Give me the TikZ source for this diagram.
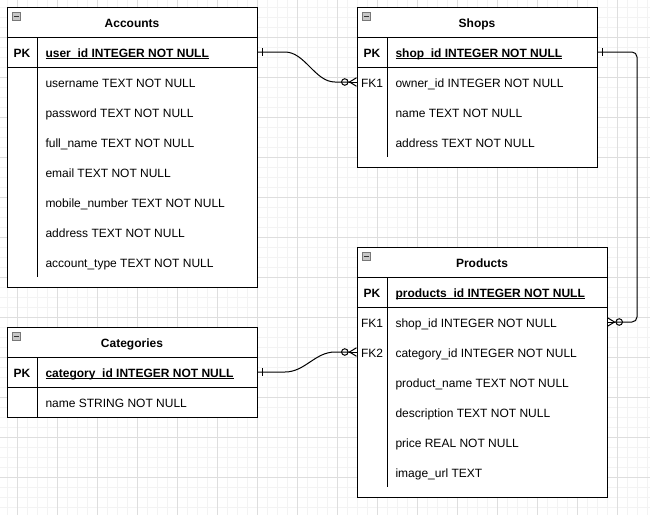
\documentclass[tikz,border=0pt]{standalone}
\usepackage{fontspec}
\setmainfont{Liberation Sans}
\usetikzlibrary{positioning,arrows.meta,calc}
\definecolor{gridmajor}{RGB}{222,222,222}
\definecolor{gridminor}{RGB}{243,243,243}
\definecolor{iconfill}{RGB}{200,200,200}
\definecolor{iconline}{RGB}{120,120,120}
\newcommand{\keyfield}[1]{\setbox0\hbox{#1}\rlap{\rule[-2.2pt]{\wd0}{0.9pt}}\box0}

\tikzset{
  every node/.style={font=\fontsize{12}{14}\selectfont, text height=10pt, text depth=0pt, inner ysep=0pt, outer sep=0pt},
  bold/.style={font=\fontsize{12}{14}\selectfont\bfseries},
  tblhead/.style={draw, fill=white, line width=1pt, minimum height=30pt, anchor=north west, bold},
  pkrow/.style={draw, fill=white, line width=1pt, minimum height=30pt},
  tblbody/.style={draw, fill=white, line width=1pt},
  key/.style={inner xsep=0pt},
  field/.style={anchor=west, inner xsep=0pt},
  minicon/.style={draw=iconline, fill=iconfill, line width=0.8pt, minimum size=8.5pt, inner sep=0pt, text height=0pt,
    path picture={\draw[black!80, line width=1pt] ([xshift=-2.5pt]path picture bounding box.center) -- ([xshift=2.5pt]path picture bounding box.center);}},
  rel/.style={line width=1pt, -{Circle[open,length=7.5pt,width=7.5pt]Straight Barb[reversed,length=7pt,width=8.5pt]}},
}

\begin{document}
\begin{tikzpicture}[x=1pt, y=-1pt]
  \useasboundingbox (0,0) rectangle (650,515);
  \fill[white] (0,0) rectangle (650,515);
  % grid
  \foreach \g in {7,17,...,647} \draw[gridminor, line width=0.7pt] (\g,0) -- (\g,515);
  \foreach \g in {7,17,...,507} \draw[gridminor, line width=0.7pt] (0,\g) -- (650,\g);
  \foreach \g in {17,57,...,657} \draw[gridmajor, line width=0.7pt] (\g,0) -- (\g,515);
  \foreach \g in {37,77,...,477} \draw[gridmajor, line width=0.7pt] (0,\g) -- (650,\g);

  % Accounts
  \node[tblhead, minimum width=250pt] (acc) at (7,7) {Accounts};
  \node[minicon, below right=5pt and 5pt of acc.north west] (acc-min) {};
  \node[pkrow, minimum width=250pt, below=0pt of acc] (acc-pk) {};
  \node[tblbody, minimum width=250pt, minimum height=220pt, below=0pt of acc-pk] (acc-body) {};
  \draw[line width=1pt] ([xshift=30pt]acc.south west) -- ([xshift=30pt,yshift=10pt]acc-body.south west);
  \node[key, bold] (acc-pkkey) at (22,52) {PK};
  \node[field, bold] (acc-pkf) at (45.5,52) {\keyfield{user\_id INTEGER NOT NULL}};
  \foreach \t [count=\i] in {username TEXT NOT NULL, password TEXT NOT NULL, full\_name TEXT NOT NULL,
      email TEXT NOT NULL, mobile\_number TEXT NOT NULL, address TEXT NOT NULL, account\_type TEXT NOT NULL}
    \node[field] (acc-f\i) at (45.5,{52+30*\i}) {\t};

  % Shops
  \node[tblhead, minimum width=240pt] (shp) at (357,7) {Shops};
  \node[minicon, below right=5pt and 5pt of shp.north west] (shp-min) {};
  \node[pkrow, minimum width=240pt, below=0pt of shp] (shp-pk) {};
  \node[tblbody, minimum width=240pt, minimum height=100pt, below=0pt of shp-pk] (shp-body) {};
  \draw[line width=1pt] ([xshift=30pt]shp.south west) -- ([xshift=30pt,yshift=10pt]shp-body.south west);
  \node[key, bold] (shp-pkkey) at (372,52) {PK};
  \node[field, bold] (shp-pkf) at (395.5,52) {\keyfield{shop\_id INTEGER NOT NULL}};
  \node[key] (shp-fk1) at (372,82) {FK1};
  \foreach \t [count=\i] in {owner\_id INTEGER NOT NULL, name TEXT NOT NULL, address TEXT NOT NULL}
    \node[field] (shp-f\i) at (395.5,{52+30*\i}) {\t};

  % Products
  \node[tblhead, minimum width=250pt] (prd) at (357,247) {Products};
  \node[minicon, below right=5pt and 5pt of prd.north west] (prd-min) {};
  \node[pkrow, minimum width=250pt, below=0pt of prd] (prd-pk) {};
  \node[tblbody, minimum width=250pt, minimum height=190pt, below=0pt of prd-pk] (prd-body) {};
  \draw[line width=1pt] ([xshift=30pt]prd.south west) -- ([xshift=30pt,yshift=10pt]prd-body.south west);
  \node[key, bold] (prd-pkkey) at (372,292) {PK};
  \node[field, bold] (prd-pkf) at (395.5,292) {\keyfield{products\_id INTEGER NOT NULL}};
  \node[key] (prd-fk1) at (372,322) {FK1};
  \node[key] (prd-fk2) at (372,352) {FK2};
  \foreach \t [count=\i] in {shop\_id INTEGER NOT NULL, category\_id INTEGER NOT NULL, product\_name TEXT NOT NULL,
      description TEXT NOT NULL, price REAL NOT NULL, image\_url TEXT}
    \node[field] (prd-f\i) at (395.5,{292+30*\i}) {\t};

  % Categories
  \node[tblhead, minimum width=250pt] (cat) at (7,327) {Categories};
  \node[minicon, below right=5pt and 5pt of cat.north west] (cat-min) {};
  \node[pkrow, minimum width=250pt, below=0pt of cat] (cat-pk) {};
  \node[tblbody, minimum width=250pt, minimum height=30pt, below=0pt of cat-pk] (cat-body) {};
  \draw[line width=1pt] ([xshift=30pt]cat.south west) -- ([xshift=30pt]cat-body.south west);
  \node[key, bold] (cat-pkkey) at (22,372) {PK};
  \node[field, bold] (cat-pkf) at (45.5,372) {\keyfield{category\_id INTEGER NOT NULL}};
  \node[field] (cat-f1) at (45.5,402) {name STRING NOT NULL};

  % relations
  \coordinate (shp-in) at (shp-fk1 -| shp.west);
  \coordinate (prd-in1) at (prd-fk1 -| prd.east);
  \coordinate (prd-in2) at (prd-fk2 -| prd.west);
  \draw[rel] (acc-pk.east) -- ++(28,0) .. controls +(20,0) and +(-20,0) .. ($(shp-in)+(-22,0)$) -- (shp-in);
  \draw[rel, rounded corners=5pt] (shp-pk.east) -- ++(40,0) |- (prd-in1);
  \draw[rel] (cat-pk.east) -- ++(28,0) .. controls +(20,0) and +(-20,0) .. ($(prd-in2)+(-22,0)$) -- (prd-in2);
  \foreach \n in {acc-pk, shp-pk, cat-pk}
    \draw[line width=1pt] (\n.east) ++(5,-4) -- ++(0,8);
  \foreach \c/\d in {shp-in/-8, prd-in1/8, prd-in2/-8}
    \draw[line width=1pt] (\c) -- ++(\d,0);
\end{tikzpicture}
\end{document}
